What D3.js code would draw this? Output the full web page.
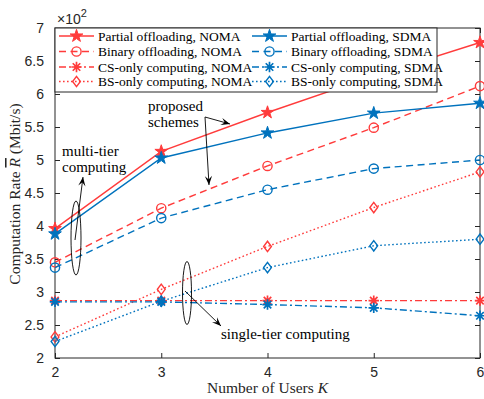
<!DOCTYPE html>
<html>
<head>
<meta charset="utf-8">
<script src="https://cdn.jsdelivr.net/npm/d3@7/dist/d3.min.js"></script>
<style>
  body { margin: 0; background: #fff; }
  svg { display: block; }
  .serif { font-family: "Liberation Serif", "DejaVu Serif", serif; }
  .sans { font-family: "Liberation Sans", Arial, sans-serif; }
</style>
</head>
<body>
<svg id="chart" width="484" height="399"></svg>
<script>
// ---------------- data ----------------
const users = [2, 3, 4, 5, 6];
const partialNOMA = [3.96, 5.13, 5.72, 6.27, 6.78];
const partialSDMA = [3.88, 5.03, 5.41, 5.71, 5.86];
const binaryNOMA  = [3.45, 4.27, 4.91, 5.49, 6.12];
const binarySDMA  = [3.37, 4.12, 4.55, 4.87, 5.00];
const csNOMA      = [2.87, 2.87, 2.87, 2.87, 2.87];
const csSDMA      = [2.85, 2.85, 2.81, 2.76, 2.64];
const bsNOMA      = [2.32, 3.04, 3.69, 4.28, 4.82];
const bsSDMA      = [2.25, 2.86, 3.37, 3.70, 3.80];
const seriesNames = [
  "Partial offloading, NOMA", "Binary offloading, NOMA", "CS-only computing, NOMA", "BS-only computing, NOMA",
  "Partial offloading, SDMA", "Binary offloading, SDMA", "CS-only computing, SDMA", "BS-only computing, SDMA"
];
const xTicks = [2, 3, 4, 5, 6];
const yTicks = [2, 2.5, 3, 3.5, 4, 4.5, 5, 5.5, 6, 6.5, 7];

// ---------------- styles ----------------
const RED = "#ff3b3b", BLUE = "#0072bd", AX = "#262626";
const series = [
  { name: seriesNames[0], values: partialNOMA, color: RED,  dash: null,        marker: "star" },
  { name: seriesNames[1], values: binaryNOMA,  color: RED,  dash: "7,4.5",     marker: "circle" },
  { name: seriesNames[2], values: csNOMA,      color: RED,  dash: "7,3,2,3",   marker: "asterisk" },
  { name: seriesNames[3], values: bsNOMA,      color: RED,  dash: "1.6,2.4",   marker: "diamond" },
  { name: seriesNames[4], values: partialSDMA, color: BLUE, dash: null,        marker: "star" },
  { name: seriesNames[5], values: binarySDMA,  color: BLUE, dash: "7,4.5",     marker: "circle" },
  { name: seriesNames[6], values: csSDMA,      color: BLUE, dash: "7,3,2,3",   marker: "asterisk" },
  { name: seriesNames[7], values: bsSDMA,      color: BLUE, dash: "1.6,2.4",   marker: "diamond" }
];

const L = 55, R = 480, T = 28, B = 358;
const svg = d3.select("#chart");
const x = d3.scaleLinear().domain([2, 6]).range([L, R]);
const y = d3.scaleLinear().domain([2, 7]).range([B, T]);

// ---------------- markers ----------------
function drawMarker(g, type, cx, cy, color) {
  if (type === "star") {
    g.append("path").attr("d", d3.symbol(d3.symbolStar, 50)())
      .attr("transform", `translate(${cx},${cy})`)
      .attr("fill", color).attr("stroke", color).attr("stroke-width", 1);
  } else if (type === "circle") {
    g.append("circle").attr("cx", cx).attr("cy", cy).attr("r", 4.6)
      .attr("fill", "none").attr("stroke", color).attr("stroke-width", 1.4);
  } else if (type === "diamond") {
    const s = 5.2;
    g.append("path").attr("d", `M${cx},${cy - s}L${cx + s * 0.75},${cy}L${cx},${cy + s}L${cx - s * 0.75},${cy}Z`)
      .attr("fill", "none").attr("stroke", color).attr("stroke-width", 1.4);
  } else if (type === "asterisk") {
    const s = 5.2, d = s * 0.72;
    g.append("path").attr("d",
      `M${cx - s},${cy}L${cx + s},${cy}M${cx},${cy - s}L${cx},${cy + s}` +
      `M${cx - d},${cy - d}L${cx + d},${cy + d}M${cx - d},${cy + d}L${cx + d},${cy - d}`)
      .attr("fill", "none").attr("stroke", color).attr("stroke-width", 1.7);
  }
}

// ---------------- axes box & ticks ----------------
const axG = svg.append("g");
axG.append("rect").attr("x", L).attr("y", T).attr("width", R - L).attr("height", B - T)
  .attr("fill", "none").attr("stroke", AX).attr("stroke-width", 1);

const xAxis = d3.axisBottom(x).tickValues(xTicks).tickSize(-5).tickPadding(9).tickFormat(d3.format("d"));
const xAxisTop = d3.axisTop(x).tickValues(xTicks).tickSize(-5).tickFormat("");
const yAxis = d3.axisLeft(y).tickValues(yTicks).tickSize(-5).tickPadding(11).tickFormat(d => (d === Math.round(d) ? d3.format("d")(d) : d3.format(".1f")(d)));
const yAxisRight = d3.axisRight(y).tickValues(yTicks).tickSize(-5).tickFormat("");

function styleAxis(sel) {
  sel.select(".domain").remove();
  sel.selectAll(".tick line").attr("stroke", AX).attr("stroke-width", 1);
  sel.selectAll(".tick text").attr("fill", AX).attr("font-size", 14)
    .attr("font-family", "'Liberation Sans', Arial, sans-serif");
}
svg.append("g").attr("transform", `translate(0,${B})`).call(xAxis).call(styleAxis);
svg.append("g").attr("transform", `translate(0,${T})`).call(xAxisTop).call(styleAxis);
svg.append("g").attr("transform", `translate(${L},0)`).call(yAxis).call(styleAxis);
svg.append("g").attr("transform", `translate(${R},0)`).call(yAxisRight).call(styleAxis);

// exponent label
const ex = svg.append("text").attr("class", "sans").attr("x", 57).attr("y", 24)
  .attr("font-size", 14).attr("fill", AX);
ex.append("tspan").text("\u00d710");
ex.append("tspan").attr("dy", -7).attr("font-size", 11).text("2");

// axis labels
const xl = svg.append("text").attr("class", "serif").attr("x", (L + R) / 2).attr("y", 393)
  .attr("text-anchor", "middle").attr("font-size", 15.5).attr("fill", AX);
xl.append("tspan").text("Number of Users ");
xl.append("tspan").attr("font-style", "italic").text("K");

const yl = svg.append("text").attr("class", "serif")
  .attr("transform", `translate(20,${194}) rotate(-90)`)
  .attr("text-anchor", "middle").attr("font-size", 15.5).attr("fill", AX);
yl.append("tspan").text("Computation Rate ");
yl.append("tspan").attr("font-style", "italic").style("text-decoration", "overline").text("R");
yl.append("tspan").text(" (Mbit/s)");

// ---------------- series ----------------
const plotG = svg.append("g");
const line = d3.line().x((d, i) => x(users[i])).y(d => y(d));
series.forEach(s => {
  plotG.append("path").datum(s.values).attr("d", line)
    .attr("fill", "none").attr("stroke", s.color).attr("stroke-width", 1.4)
    .attr("stroke-dasharray", s.dash);
  s.values.forEach((v, i) => drawMarker(plotG, s.marker, x(users[i]), y(v), s.color));
});

// ---------------- annotations ----------------
const ann = svg.append("g").attr("stroke", "#000").attr("fill", "none").attr("stroke-width", 0.9);
function arrow(x1, y1, x2, y2) {
  ann.append("line").attr("x1", x1).attr("y1", y1).attr("x2", x2).attr("y2", y2);
  const a = Math.atan2(y2 - y1, x2 - x1), len = 9, w = 3.6;
  const bx = x2 - len * Math.cos(a), by = y2 - len * Math.sin(a);
  const px = -Math.sin(a), py = Math.cos(a);
  const ix = x2 - len * 0.6 * Math.cos(a), iy = y2 - len * 0.6 * Math.sin(a);
  ann.append("path")
    .attr("d", `M${x2},${y2}L${bx + px * w},${by + py * w}L${ix},${iy}L${bx - px * w},${by - py * w}Z`)
    .attr("fill", "#000").attr("stroke", "none");
}
// multi-tier
ann.append("ellipse").attr("cx", 76).attr("cy", 238).attr("rx", 5).attr("ry", 37);
arrow(75, 240, 83, 177);
// single-tier
ann.append("ellipse").attr("cx", 187).attr("cy", 293).attr("rx", 4.5).attr("ry", 31.5);
arrow(185, 291, 221, 326);
// proposed schemes
arrow(205, 117, 230, 124);
arrow(205, 117, 209, 185);

const txt = svg.append("g").attr("class", "serif").attr("font-size", 15).attr("fill", "#000");
txt.append("text").attr("x", 148).attr("y", 111).text("proposed");
txt.append("text").attr("x", 148).attr("y", 127).text("schemes");
txt.append("text").attr("x", 62).attr("y", 156).text("multi-tier");
txt.append("text").attr("x", 62).attr("y", 172).text("computing");
txt.append("text").attr("x", 221).attr("y", 339).text("single-tier computing");

// ---------------- legend ----------------
const lg = svg.append("g");
lg.append("rect").attr("x", L).attr("y", T).attr("width", 382).attr("height", 64)
  .attr("fill", "#fff").attr("stroke", AX).attr("stroke-width", 1);
const rowY = [36, 51.5, 67, 81.5];
series.forEach((s, i) => {
  const col = i < 4 ? 0 : 1, row = i % 4;
  const x0 = col === 0 ? 59 : 252, x1 = x0 + 35, yy = rowY[row];
  lg.append("line").attr("x1", x0).attr("x2", x1).attr("y1", yy).attr("y2", yy)
    .attr("stroke", s.color).attr("stroke-width", 1.4).attr("stroke-dasharray", s.dash);
  drawMarker(lg, s.marker, (x0 + x1) / 2, yy, s.color);
  lg.append("text").attr("class", "serif").attr("x", x1 + 4).attr("y", yy + 4.5)
    .attr("font-size", 13.5).attr("fill", "#000").text(s.name);
});
</script>
</body>
</html>
